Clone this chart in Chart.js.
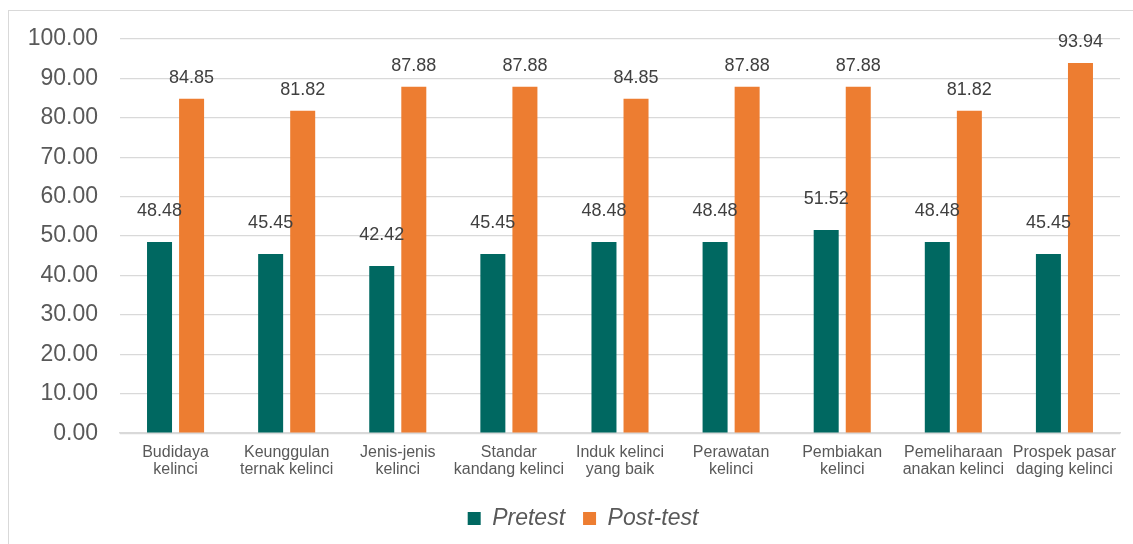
<!DOCTYPE html>
<html>
<head>
<meta charset="utf-8">
<script src="https://cdn.jsdelivr.net/npm/chart.js@4"></script>
<style>
  html, body { margin: 0; padding: 0; background: #fff; }
  #wrap { position: relative; width: 1133px; height: 544px; overflow: hidden; }
  #frame { position: absolute; left: 8px; top: 10px; width: 1140px; height: 560px; border: 1px solid #d9d9d9; }
  canvas { position: absolute; left: 0; top: 0; }
</style>
</head>
<body>
<div id="wrap">
  <div id="frame"></div>
  <canvas id="myChart" width="1133" height="544"></canvas>
</div>
<script>
// kategori (x-axeln), två rader per etikett
const categories = [
  ["Budidaya", "kelinci"],
  ["Keunggulan", "ternak kelinci"],
  ["Jenis-jenis", "kelinci"],
  ["Standar", "kandang kelinci"],
  ["Induk kelinci", "yang baik"],
  ["Perawatan", "kelinci"],
  ["Pembiakan", "kelinci"],
  ["Pemeliharaan", "anakan kelinci"],
  ["Prospek pasar", "daging kelinci"]
];

// värden
const pretest = [48.48, 45.45, 42.42, 45.45, 48.48, 48.48, 51.52, 48.48, 45.45];
const posttest = [84.85, 81.82, 87.88, 87.88, 84.85, 87.88, 87.88, 81.82, 93.94];

// y-axelns steg
const yTicks = [0, 10, 20, 30, 40, 50, 60, 70, 80, 90, 100];

const textColor = "#595959";

// ritar värdena ovanför staplarna
const valueLabels = {
  id: "valueLabels",
  afterDatasetsDraw(chart) {
    const c = chart.ctx;
    c.save();
    c.font = "18px 'Liberation Sans', Arial, sans-serif";
    c.fillStyle = "#404040";
    c.textAlign = "center";
    c.textBaseline = "middle";
    chart.data.datasets.forEach((ds, i) => {
      const meta = chart.getDatasetMeta(i);
      const lift = i === 0 ? 31 : 21;
      meta.data.forEach((bar, j) => {
        c.fillText(ds.data[j].toFixed(2), bar.x, bar.y - lift);
      });
    });
    c.restore();
  }
};

// flyttar legenden lite åt höger
const legendShift = {
  id: "legendShift",
  afterLayout(chart) {
    chart.legend.left += 23;
    chart.legend.right += 23;
  }
};

const ctx = document.getElementById("myChart").getContext("2d");

const myChart = new Chart(ctx, {
  type: "bar",
  data: {
    labels: categories,
    datasets: [
      {
        label: "Pretest",
        data: pretest,
        backgroundColor: "#006861",
        categoryPercentage: 0.577,
        barPercentage: 0.78
      },
      {
        label: "Post-test",
        data: posttest,
        backgroundColor: "#ED7D31",
        categoryPercentage: 0.577,
        barPercentage: 0.78
      }
    ]
  },
  options: {
    responsive: false,
    animation: false,
    layout: { padding: { left: 0, right: 13, top: 39, bottom: 4 } },
    plugins: {
      tooltip: { enabled: false },
      legend: {
        position: "bottom",
        labels: {
          boxWidth: 13,
          boxHeight: 13,
          padding: 18,
          color: textColor,
          font: { family: "'Liberation Sans', Arial, sans-serif", size: 23, style: "italic" }
        }
      }
    },
    scales: {
      x: {
        grid: { display: false, drawTicks: false },
        border: { display: true, color: "#d9d9d9", width: 1.5 },
        ticks: {
          color: textColor,
          padding: 10,
          maxRotation: 0,
          autoSkip: false,
          font: { family: "'Liberation Sans', Arial, sans-serif", size: 16, lineHeight: 1.12 }
        }
      },
      y: {
        min: 0,
        max: 100,
        afterFit(scale) { scale.width = 120; },
        afterBuildTicks(scale) { scale.ticks = yTicks.map(v => ({ value: v })); },
        grid: { color: "#d9d9d9", lineWidth: 1.2, drawTicks: false },
        border: { display: false },
        ticks: {
          color: textColor,
          padding: 22,
          callback: v => Number(v).toFixed(2),
          font: { family: "'Liberation Sans', Arial, sans-serif", size: 23 }
        }
      }
    }
  },
  plugins: [valueLabels, legendShift]
});
</script>
</body>
</html>
